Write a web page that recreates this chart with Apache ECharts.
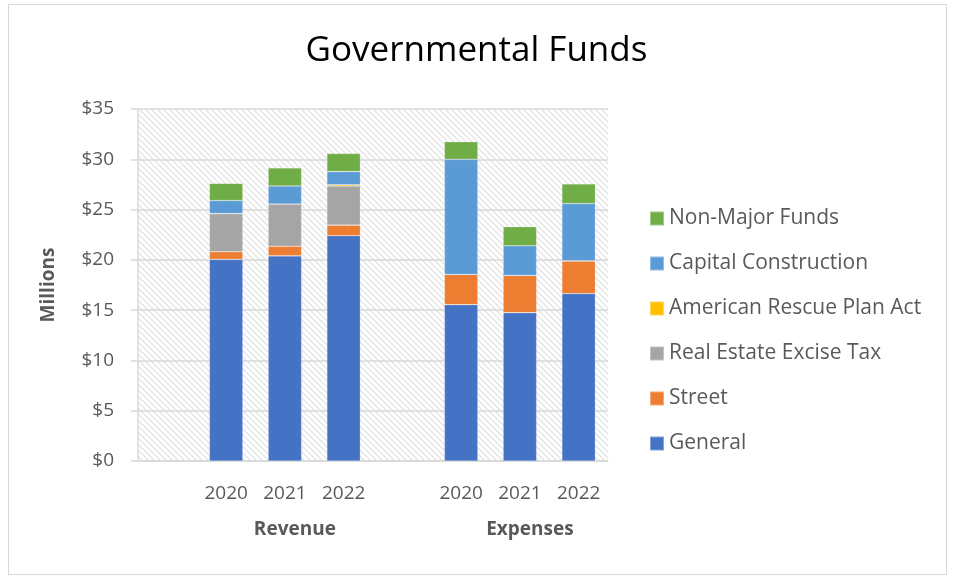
<!DOCTYPE html>
<html>
<head>
<meta charset="utf-8">
<script src="https://cdn.jsdelivr.net/npm/echarts@6/dist/echarts.min.js"></script>
<style>
  html, body { margin: 0; padding: 0; background: #fff; }
  #chart { width: 953px; height: 577px; }
  #frame { position: absolute; left: 8px; top: 4px; width: 937px; height: 569px; border: 1.5px solid #d9d9d9; pointer-events: none; }
</style>
</head>
<body>
<div id="chart"></div>
<div id="frame"></div>
<script>
// ---- Data (millions of dollars) ----
const groups = ['Revenue', 'Expenses'];
const years = ['2020', '2021', '2022'];
const seriesNames = ['General', 'Street', 'Real Estate Excise Tax', 'American Rescue Plan Act', 'Capital Construction', 'Non-Major Funds'];
const general    = [20.05, 20.4, 22.4, 15.55, 14.75, 16.65];
const street     = [0.75, 0.95, 1.05, 3.0, 3.7, 3.25];
const reet       = [3.8, 4.2, 3.9, 0, 0, 0];
const arpa       = [0, 0, 0.12, 0, 0, 0];
const capital    = [1.3, 1.8, 1.3, 11.45, 2.95, 5.7];
const nonMajor   = [1.7, 1.8, 1.8, 1.75, 1.9, 1.95];
const yTicks = [0, 5, 10, 15, 20, 25, 30, 35];
const colors = ['#4472C4', '#ED7D31', '#A5A5A5', '#FFC000', '#5B9BD5', '#70AD47'];

// Build the slotted category axis: a blank slot before each group
const yearCats = [];
const groupCats = [];
groups.forEach(g => {
  yearCats.push('');
  groupCats.push('');
  years.forEach((y, i) => {
    yearCats.push(y);
    groupCats.push(i === 1 ? g : '');
  });
});
function slot(values) {
  const out = [];
  let k = 0;
  groups.forEach(() => {
    out.push(null);
    years.forEach(() => { out.push(values[k++]); });
  });
  return out;
}
const seriesValues = [general, street, reet, arpa, capital, nonMajor];

// hatch pattern for plot background
const pc = document.createElement('canvas');
pc.width = 6; pc.height = 6;
const px = pc.getContext('2d');
px.fillStyle = '#ffffff';
px.fillRect(0, 0, 6, 6);
px.strokeStyle = '#e3e3e3';
px.lineWidth = 1.3;
px.beginPath();
px.moveTo(-1, -1); px.lineTo(7, 7);
px.moveTo(-1, 5); px.lineTo(1, 7);
px.moveTo(5, -1); px.lineTo(7, 1);
px.stroke();

const FONT = 'Open Sans';
const chart = echarts.init(document.getElementById('chart'));
chart.setOption({
  backgroundColor: '#ffffff',
  animation: false,
  textStyle: { fontFamily: FONT },
  title: {
    text: 'Governmental Funds',
    left: 'center',
    top: 29,
    textStyle: { fontFamily: FONT, fontSize: 35, fontWeight: 'normal', color: '#000000' }
  },
  legend: {
    orient: 'vertical',
    left: 644,
    top: 203,
    icon: 'rect',
    itemWidth: 14,
    itemHeight: 14,
    itemGap: 24,
    data: seriesNames.slice().reverse(),
    textStyle: { fontFamily: FONT, fontSize: 21, color: '#595959', lineHeight: 21, padding: [0, 0, 0, 0] }
  },
  grid: {
    left: 138, right: 345, top: 109, bottom: 116,
    show: true,
    borderWidth: 0,
    backgroundColor: { image: pc, repeat: 'repeat' }
  },
  xAxis: [
    {
      type: 'category',
      data: yearCats,
      position: 'bottom',
      axisLine: { show: true, lineStyle: { color: '#d9d9d9', width: 1.5 } },
      axisTick: { show: false },
      axisLabel: { interval: 0, margin: 23, fontFamily: FONT, fontSize: 19, color: '#595959' },
      splitLine: { show: false }
    },
    {
      type: 'category',
      data: groupCats,
      position: 'bottom',
      axisLine: { show: false },
      axisTick: { show: false },
      axisLabel: { interval: 0, margin: 59, fontFamily: FONT, fontSize: 19, fontWeight: 'bold', color: '#595959', padding: [0, 0, 0, 20] },
      splitLine: { show: false }
    }
  ],
  yAxis: {
    type: 'value',
    min: yTicks[0],
    max: yTicks[yTicks.length - 1],
    interval: yTicks[1] - yTicks[0],
    name: 'Millions',
    nameLocation: 'middle',
    nameRotate: 90,
    nameGap: 80,
    nameTextStyle: { fontFamily: FONT, fontSize: 19, fontWeight: 'bold', color: '#595959' },
    axisLine: { show: true, lineStyle: { color: '#d9d9d9', width: 1.5 } },
    axisTick: { show: true, length: 7, lineStyle: { color: '#d9d9d9', width: 1.5 } },
    axisLabel: { margin: 24, fontFamily: FONT, fontSize: 19, color: '#595959', formatter: v => '$' + v },
    splitLine: { show: true, lineStyle: { color: '#d9d9d9', width: 1.5 } }
  },
  series: seriesNames.map((n, i) => ({
    name: n,
    type: 'bar',
    stack: 'total',
    xAxisIndex: 0,
    barWidth: '57%',
    data: slot(seriesValues[i]),
    itemStyle: { color: colors[i], borderColor: 'rgba(255,255,255,0.35)', borderWidth: 0.6 }
  }))
});
</script>
</body>
</html>
